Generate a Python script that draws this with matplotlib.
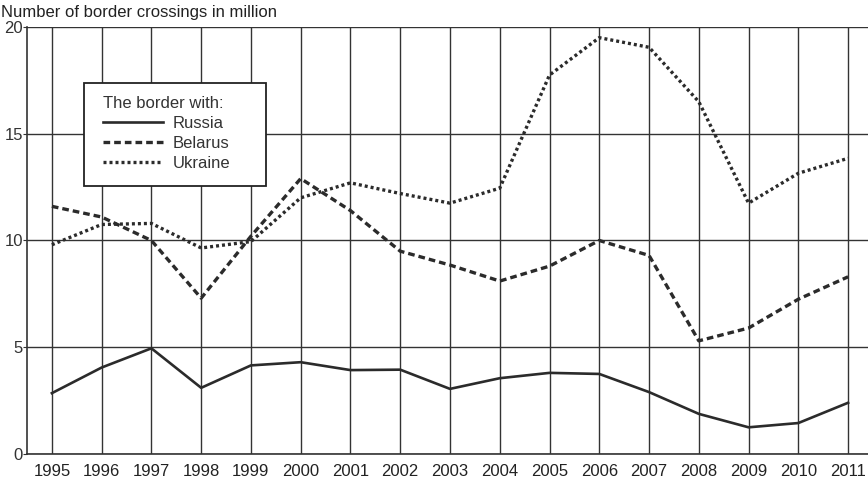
import matplotlib.pyplot as plt
from matplotlib.patches import Rectangle

plt.rcParams['font.family'] = ['Liberation Sans', 'DejaVu Sans']

years = list(range(1995, 2012))
russia = [2.85, 4.05, 4.95, 3.1, 4.15, 4.3, 3.93, 3.95, 3.05, 3.55, 3.8, 3.75, 2.9, 1.88, 1.25, 1.45, 2.4]
belarus = [11.6, 11.1, 10.0, 7.3, 10.2, 12.9, 11.4, 9.5, 8.85, 8.1, 8.8, 10.0, 9.3, 5.3, 5.9, 7.25, 8.3]
ukraine = [9.8, 10.75, 10.8, 9.65, 9.95, 12.0, 12.7, 12.2, 11.75, 12.45, 17.75, 19.5, 19.05, 16.5, 11.75, 13.15, 13.85]
yticks = [0, 5, 10, 15, 20]

col = '#2b2b2b'
fig = plt.figure(figsize=(8.68, 4.86), dpi=100)
ax = fig.add_axes([27/868, 32/486, 1 - 27/868, 427/486])

ax.plot(years, russia, color=col, lw=1.9, ls='-', label='Russia')
ax.plot(years, belarus, color=col, lw=2.4, ls=(0, (2.0, 1.2)), label='Belarus')
ax.plot(years, ukraine, color=col, lw=2.4, ls=(0, (0.9, 0.9)), label='Ukraine')

ax.set_xlim(1994.5, 2011.4)
ax.set_ylim(0, 20)
ax.set_xticks(years)
ax.set_yticks(yticks)
ax.grid(True, color='#333333', lw=1.0)
ax.set_axisbelow(True)
for s in ['top', 'right']:
    ax.spines[s].set_visible(False)
ax.spines['left'].set_color('#333333')
ax.spines['bottom'].set_color('#333333')
ax.spines['left'].set_linewidth(1.2)
ax.spines['bottom'].set_linewidth(1.2)
ax.tick_params(axis='x', length=0, pad=7, labelsize=12, labelcolor='#222222')
ax.tick_params(axis='y', length=3, pad=0, labelsize=12, labelcolor='#333333', color='#333333')

# legend frame drawn separately so the padding can be uneven like the original
ax.add_patch(Rectangle((57/841, 268/427), 182/841, 103/427, transform=ax.transAxes,
                       facecolor='white', edgecolor='#222222', lw=1.3, zorder=4))
leg = ax.legend(title='The border with:', loc='upper left',
                bbox_to_anchor=(76/841, 358/427), frameon=False, fontsize=12,
                title_fontsize=12, handlelength=3.6, handletextpad=0.6,
                labelspacing=0.3, borderpad=0, borderaxespad=0)
leg.set_zorder(5)
leg._legend_box.align = 'left'
for t in leg.get_texts():
    t.set_color('#333333')
leg.get_title().set_color('#333333')

fig.text(0.001, 0.99, 'Number of border crossings in million', fontsize=12,
         color='#222222', ha='left', va='top')

fig.savefig('out.png', dpi=100)
